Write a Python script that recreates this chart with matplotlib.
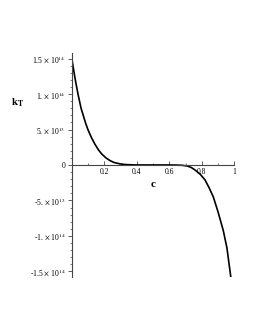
import matplotlib
matplotlib.use("Agg")
import matplotlib.pyplot as plt
from matplotlib.ticker import MultipleLocator, FixedLocator

plt.rcParams['font.family'] = ['Liberation Serif', 'DejaVu Serif']
plt.rcParams['mathtext.fontset'] = 'stix'

# curve (k_T in units of 1e14)
c = [0, 0.02, 0.038, 0.057, 0.069, 0.085, 0.10, 0.12, 0.143, 0.165, 0.184,
     0.21, 0.235, 0.26, 0.297, 0.33, 0.37, 0.4, 0.5, 0.6, 0.65, 0.68, 0.71,
     0.735, 0.758, 0.79, 0.82, 0.845, 0.871, 0.9, 0.932, 0.955, 0.98]
kT = [1.50, 1.22, 1.00, 0.80, 0.71, 0.59, 0.495, 0.39, 0.29, 0.21, 0.155,
      0.10, 0.062, 0.035, 0.015, 0.006, 0.002, 0.0, 0.0, 0.0, -0.002, -0.005,
      -0.014, -0.035, -0.07, -0.13, -0.21, -0.32, -0.45, -0.66, -0.92, -1.17,
      -1.60]
kT = [v * 1e14 for v in kT]

xticks = [0.2, 0.4, 0.6, 0.8, 1.0]
xticklabels = ["0.2", "0.4", "0.6", "0.8", "1"]
yticks = [-1.5e14, -1e14, -5e13, 0, 5e13, 1e14, 1.5e14]
yticklabels = [r"-1.5 $\times$ 10$^{14}$", r"-1. $\times$ 10$^{14}$",
               r"-5. $\times$ 10$^{13}$", "0", r"5. $\times$ 10$^{13}$",
               r"1. $\times$ 10$^{14}$", r"1.5 $\times$ 10$^{14}$"]

fig = plt.figure(figsize=(2.55, 3.3), dpi=100)
ax = fig.add_axes([0.2816, 0.1606, 0.637, 0.679])
ax.plot(c, kT, color="black", linewidth=1.2)

ax.set_xlim(0, 1)
ax.set_ylim(-1.58e14, 1.58e14)

ax.spines['top'].set_visible(False)
ax.spines['right'].set_visible(False)
ax.spines['bottom'].set_position(('data', 0))
ax.spines['left'].set_position(('data', 0))
for s in ['bottom', 'left']:
    ax.spines[s].set_linewidth(0.8)
    ax.spines[s].set_color("#444444")

ax.xaxis.set_major_locator(FixedLocator(xticks))
ax.set_xticklabels(xticklabels)
ax.xaxis.set_minor_locator(MultipleLocator(0.1))
ax.yaxis.set_major_locator(FixedLocator(yticks))
ax.set_yticklabels(yticklabels)
ax.yaxis.set_minor_locator(MultipleLocator(1e13))

ax.tick_params(axis='x', which='major', direction='in', length=3, width=0.6,
               labelsize=5.5, pad=2, colors="#444444", labelcolor="black")
ax.tick_params(axis='x', which='minor', direction='in', length=1.5, width=0.5,
               colors="#444444")
ax.tick_params(axis='y', which='major', direction='out', length=3, width=0.6,
               labelsize=5.5, pad=1.5, colors="#444444", labelcolor="black")
ax.tick_params(axis='y', which='minor', direction='out', length=1.5, width=0.5,
               colors="#444444")

fig.text(0.60, 0.44, "c", fontsize=8, fontweight="bold", ha="center", va="center")
fig.text(0.07, 0.69, r"$\mathbf{k_T}$", fontsize=8, ha="center", va="center")

fig.savefig("out.png", dpi=100)
